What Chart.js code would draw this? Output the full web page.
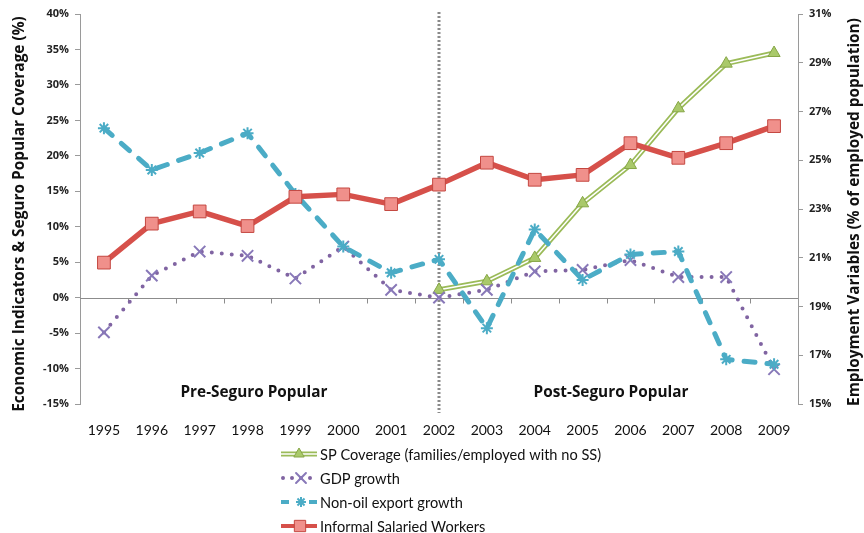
<!DOCTYPE html>
<html>
<head>
<meta charset="utf-8">
<script src="https://cdn.jsdelivr.net/npm/chart.js@4.4.1/dist/chart.umd.min.js"></script>
<style>
  html, body { margin: 0; padding: 0; background: #ffffff; }
  #c { display: block; }
</style>
</head>
<body>
<canvas id="c" width="864" height="533"></canvas>
<script>
// ---- data ----
const years = ['1995','1996','1997','1998','1999','2000','2001','2002','2003','2004','2005','2006','2007','2008','2009'];
const spCoverage = [null, null, null, null, null, null, null, 1.1, 2.3, 5.6, 13.3, 18.7, 26.7, 33.0, 34.5];
const gdpGrowth = [-4.9, 3.1, 6.5, 5.9, 2.7, 7.2, 1.1, 0.0, 1.1, 3.7, 3.9, 5.3, 2.9, 2.9, -10.1];
const nonOilExportGrowth = [23.9, 18.0, 20.4, 23.2, 14.6, 7.2, 3.5, 5.4, -4.3, 9.6, 2.5, 6.1, 6.5, -8.7, -9.4];
const informalSalaried = [20.8, 22.4, 22.9, 22.3, 23.5, 23.6, 23.2, 24.0, 24.9, 24.2, 24.4, 25.7, 25.1, 25.7, 26.4];
const leftTicks = { min: -15, max: 40, step: 5 };
const rightTicks = { min: 15, max: 31, step: 2 };
const dividerYear = '2002';
const legendLabels = ['SP Coverage (families/employed with no SS)', 'GDP growth', 'Non-oil export growth', 'Informal Salaried Workers'];
const periodLabels = ['Pre-Seguro Popular', 'Post-Seguro Popular'];
const leftTitle = 'Economic Indicators & Seguro Popular Coverage (%)';
const rightTitle = 'Employment Variables (% of employed population)';

const FONT = 'Lato, "Open Sans", "DejaVu Sans", sans-serif';
const BFONT = '"Open Sans", "Liberation Sans", "DejaVu Sans", sans-serif';
const C = {
  green: '#9BBB59', greenFill: '#A9C96A', greenEdge: '#86A646',
  purple: '#8064A2', purpleMark: '#8878B8',
  blue: '#4BACC6',
  red: '#D6504A', redFill: '#F0908B', redEdge: '#C44740',
  axis: '#9A9A9A'
};

const datasets = [
  { label: legendLabels[3], data: informalSalaried, yAxisID: 'y1', order: 1,
    borderColor: C.red, borderWidth: 5.5, borderJoinStyle: 'round',
    pointStyle: 'rect', pointRadius: 9, pointBackgroundColor: C.redFill,
    pointBorderColor: C.redEdge, pointBorderWidth: 1 },
  { label: legendLabels[2], data: nonOilExportGrowth, yAxisID: 'y', order: 2,
    borderColor: C.blue, borderWidth: 5, borderDash: [11, 12], borderCapStyle: 'round',
    pointStyle: 'star', pointRadius: 6, pointBorderColor: C.blue, pointBorderWidth: 2,
    pointBackgroundColor: C.blue },
  { label: legendLabels[1], data: gdpGrowth, yAxisID: 'y', order: 3,
    borderColor: C.purple, borderWidth: 4, borderDash: [0, 10], borderCapStyle: 'round',
    pointStyle: 'crossRot', pointRadius: 8, pointBorderColor: C.purpleMark, pointBorderWidth: 2 },
  // SP coverage: triangles on top of a double (green / white core) line
  { label: legendLabels[0], data: spCoverage, yAxisID: 'y', order: 4, showLine: false,
    pointStyle: 'triangle', pointRadius: 7, pointBackgroundColor: C.greenFill,
    pointBorderColor: C.greenEdge, pointBorderWidth: 1 },
  { label: '_spCore', data: spCoverage, yAxisID: 'y', order: 5,
    borderColor: '#ffffff', borderWidth: 1.6, pointRadius: 0 },
  { label: '_spOuter', data: spCoverage, yAxisID: 'y', order: 6,
    borderColor: C.green, borderWidth: 5, pointRadius: 0 }
];

function fitFont(ctx, text, weight, family, target) {
  ctx.font = weight + ' 20px ' + family;
  const w = ctx.measureText(text).width;
  const size = 20 * target / w;
  ctx.font = weight + ' ' + size.toFixed(2) + 'px ' + family;
}

const overlay = {
  id: 'overlay',
  beforeDatasetsDraw(chart) {
    const { ctx, chartArea: a, scales } = chart;
    const x = scales.x, y = scales.y;
    ctx.save();
    // horizontal axis at 0% with boundary tick marks
    const y0 = Math.round(y.getPixelForValue(0)) + 0.5;
    ctx.strokeStyle = '#8C8C8C';
    ctx.lineWidth = 1;
    ctx.beginPath();
    ctx.moveTo(a.left, y0); ctx.lineTo(a.right, y0);
    const w = (a.right - a.left) / years.length;
    for (let k = 1; k < years.length; k++) {
      const px = Math.round(a.left + k * w) + 0.5;
      ctx.moveTo(px, y0); ctx.lineTo(px, y0 + 5);
    }
    ctx.stroke();
    // vertical dotted divider
    const xd = x.getPixelForValue(years.indexOf(dividerYear));
    ctx.strokeStyle = '#8A8A8A';
    ctx.lineWidth = 3;
    ctx.setLineDash([2, 2]);
    ctx.beginPath();
    ctx.moveTo(xd, a.top - 2); ctx.lineTo(xd, a.bottom + 9);
    ctx.stroke();
    ctx.restore();
  },
  afterDraw(chart) {
    const { ctx } = chart;
    ctx.save();
    ctx.fillStyle = '#111';
    ctx.textAlign = 'center';
    ctx.textBaseline = 'middle';
    // axis titles
    fitFont(ctx, leftTitle, 'bold', BFONT, 396);
    ctx.save(); ctx.translate(20, 214); ctx.rotate(-Math.PI / 2); ctx.fillText(leftTitle, 0, 0); ctx.restore();
    fitFont(ctx, rightTitle, 'bold', BFONT, 388);
    ctx.save(); ctx.translate(855, 212); ctx.rotate(-Math.PI / 2); ctx.fillText(rightTitle, 0, 0); ctx.restore();
    // period labels
    fitFont(ctx, periodLabels[0], 'bold', BFONT, 147);
    ctx.fillText(periodLabels[0], 254, 393);
    fitFont(ctx, periodLabels[1], 'bold', BFONT, 155);
    ctx.fillText(periodLabels[1], 611, 393);
    // legend
    const rows = [454, 478, 502, 526];
    const x0 = 281, x1 = 317, xm = 299;
    const H = Chart.helpers;
    ctx.textAlign = 'left';
    rows.forEach((ry, i) => {
      ctx.save();
      ctx.lineCap = 'butt';
      if (i === 0) {
        ctx.strokeStyle = C.green; ctx.lineWidth = 5;
        ctx.beginPath(); ctx.moveTo(x0, ry); ctx.lineTo(x1, ry); ctx.stroke();
        ctx.strokeStyle = '#fff'; ctx.lineWidth = 1.6;
        ctx.beginPath(); ctx.moveTo(x0, ry); ctx.lineTo(x1, ry); ctx.stroke();
        ctx.fillStyle = C.greenFill; ctx.strokeStyle = C.greenEdge; ctx.lineWidth = 1;
        H.drawPoint(ctx, { pointStyle: 'triangle', radius: 6, rotation: 0, borderWidth: 1 }, xm, ry);
      } else if (i === 1) {
        ctx.strokeStyle = C.purple; ctx.lineWidth = 4; ctx.lineCap = 'round'; ctx.setLineDash([0, 9]);
        ctx.beginPath(); ctx.moveTo(x0 + 2, ry); ctx.lineTo(x1, ry); ctx.stroke();
        ctx.setLineDash([]);
        ctx.strokeStyle = C.purpleMark; ctx.lineWidth = 2;
        H.drawPoint(ctx, { pointStyle: 'crossRot', radius: 7, rotation: 0, borderWidth: 2 }, xm + 2, ry);
      } else if (i === 2) {
        ctx.strokeStyle = C.blue; ctx.lineWidth = 4;
        ctx.beginPath(); ctx.moveTo(x0, ry); ctx.lineTo(x0 + 8, ry); ctx.moveTo(x1 - 8, ry); ctx.lineTo(x1, ry); ctx.stroke();
        ctx.lineWidth = 2;
        H.drawPoint(ctx, { pointStyle: 'star', radius: 5, rotation: 0, borderWidth: 2 }, xm + 2, ry);
      } else {
        ctx.strokeStyle = C.red; ctx.lineWidth = 4;
        ctx.beginPath(); ctx.moveTo(x0, ry); ctx.lineTo(x1, ry); ctx.stroke();
        ctx.fillStyle = C.redFill; ctx.strokeStyle = C.redEdge; ctx.lineWidth = 1;
        H.drawPoint(ctx, { pointStyle: 'rect', radius: 8, rotation: 0, borderWidth: 1 }, xm + 1, ry);
      }
      ctx.restore();
      ctx.fillStyle = '#111';
      ctx.font = '14.6px ' + FONT;
      ctx.fillText(legendLabels[i], 320, ry + 1);
    });
    ctx.restore();
  }
};

new Chart(document.getElementById('c'), {
  type: 'line',
  data: { labels: years, datasets },
  options: {
    responsive: false,
    animation: false,
    spanGaps: false,
    layout: { padding: { top: 14, left: 0, right: 0, bottom: 0 } },
    plugins: { legend: { display: false }, tooltip: { enabled: false } },
    elements: { line: { tension: 0 } },
    scales: {
      x: {
        offset: true,
        grid: { display: false, drawTicks: false },
        border: { display: false },
        ticks: { color: '#111', font: { family: FONT, size: 14 }, padding: 18, maxRotation: 0, autoSkip: false },
        afterFit(s) { s.height = 533 - 404; }
      },
      y: {
        position: 'left', min: leftTicks.min, max: leftTicks.max,
        ticks: { stepSize: leftTicks.step, callback: v => v + '%', color: '#222',
                 font: { family: BFONT, size: 11, weight: 'bold' }, padding: 6 },
        grid: { drawOnChartArea: false, tickLength: 5, color: C.axis },
        border: { color: C.axis },
        afterFit(s) { s.width = 80; }
      },
      y1: {
        position: 'right', min: rightTicks.min, max: rightTicks.max,
        ticks: { stepSize: rightTicks.step, callback: v => v + '%', color: '#222',
                 font: { family: BFONT, size: 11, weight: 'bold' }, padding: 6 },
        grid: { drawOnChartArea: false, tickLength: 5, color: C.axis },
        border: { color: C.axis },
        afterFit(s) { s.width = 864 - 798; }
      }
    }
  },
  plugins: [overlay]
});
</script>
</body>
</html>
